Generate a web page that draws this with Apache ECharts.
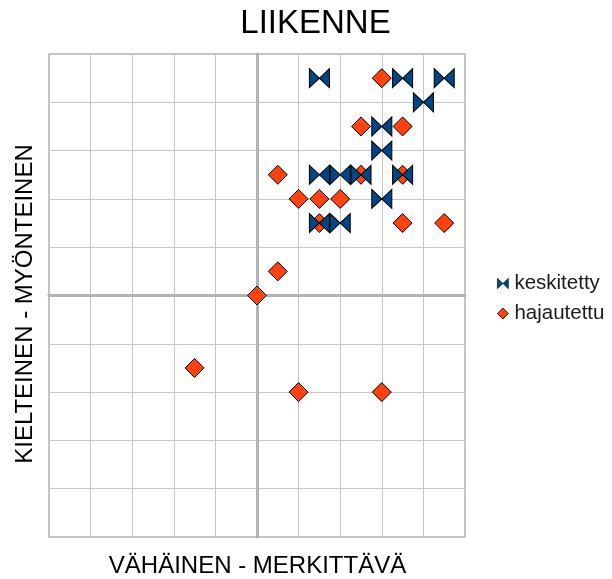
<!DOCTYPE html>
<html>
<head>
<meta charset="utf-8">
<script src="https://cdn.jsdelivr.net/npm/echarts@6/dist/echarts.min.js"></script>
<style>
html,body{margin:0;padding:0;background:#fff;}
#c{width:612px;height:579px;}
</style>
</head>
<body>
<div id="c"></div>
<script>
const titleText = 'LIIKENNE';
const xAxisName = 'VÄHÄINEN - MERKITTÄVÄ';
const yAxisName = 'KIELTEINEN - MYÖNTEINEN';
const seriesNames = ['keskitetty', 'hajautettu'];

const keskitettyX = [1.5, 3.5, 4.5, 4, 3, 3, 1.5, 2, 2.5, 3.5, 3, 1.5, 2];
const keskitettyY = [4.5, 4.5, 4.5, 4, 3.5, 3, 2.5, 2.5, 2.5, 2.5, 2, 1.5, 1.5];

const hajautettuX = [3, 2.5, 3.5, 0.5, 2.5, 3.5, 1, 1.5, 2, 1.5, 3.5, 4.5, 0.5, 0, -1.5, 1, 3];
const hajautettuY = [4.5, 3.5, 3.5, 2.5, 2.5, 2.5, 2, 2, 2, 1.5, 1.5, 1.5, 0.5, 0, -1.5, -2, -2];

const axisMin = -5, axisMax = 5, axisStep = 1;

const bowtie = 'path://M0,0L10,9.5L0,19ZM20,0L10,9.5L20,19Z';

function pairs(xs, ys) { return xs.map((x, i) => [x, ys[i]]); }

const chart = echarts.init(document.getElementById('c'), null, {renderer: 'canvas'});
const font = '"Liberation Sans", Arial, sans-serif';
const gridColor = '#c6c6c6';

chart.setOption({
  backgroundColor: '#ffffff',
  animation: false,
  grid: {
    left: 49, right: 147, top: 54, bottom: 42,
    show: true, borderColor: '#b3b3b3', borderWidth: 1.5, backgroundColor: 'transparent'
  },
  xAxis: {
    type: 'value', min: axisMin, max: axisMax, interval: axisStep,
    axisLabel: {show: false}, axisTick: {show: false},
    axisLine: {show: true, onZero: true, lineStyle: {color: '#b3b3b3', width: 3}},
    splitLine: {show: true, lineStyle: {color: gridColor, width: 1}}
  },
  yAxis: {
    type: 'value', min: axisMin, max: axisMax, interval: axisStep,
    axisLabel: {show: false}, axisTick: {show: false},
    axisLine: {show: true, onZero: true, lineStyle: {color: '#b3b3b3', width: 3}},
    splitLine: {show: true, lineStyle: {color: gridColor, width: 1}}
  },
  legend: {
    orient: 'vertical', left: 492, top: 268, itemGap: 9,
    itemWidth: 11, itemHeight: 11,
    textStyle: {fontFamily: font, fontSize: 20.5, color: '#1a1a1a', padding: [0, 0, 0, 1]},
    data: [
      {name: seriesNames[0], icon: bowtie, itemStyle: {borderWidth: 0.6}},
      {name: seriesNames[1], icon: 'diamond', itemStyle: {borderWidth: 0.8}}
    ]
  },
  graphic: [
    {type: 'text', x: 315.5, y: 23.5, style: {text: titleText, font: '33px ' + font, fill: '#000', align: 'center', verticalAlign: 'middle'}},
    {type: 'text', x: 257.5, y: 566, style: {text: xAxisName, font: '24px ' + font, fill: '#000', align: 'center', verticalAlign: 'middle'}},
    {type: 'text', x: 25, y: 304, rotation: Math.PI / 2, style: {text: yAxisName, font: '24px ' + font, fill: '#000', align: 'center', verticalAlign: 'middle'}}
  ],
  series: [
    {
      name: seriesNames[0], type: 'scatter', z: 4,
      symbol: bowtie, symbolSize: [20, 19],
      itemStyle: {color: '#004586', borderColor: '#000', borderWidth: 1, opacity: 1},
      data: pairs(keskitettyX, keskitettyY)
    },
    {
      name: seriesNames[1], type: 'scatter', z: 3,
      symbol: 'diamond', symbolSize: [19, 19],
      itemStyle: {color: '#ff420e', borderColor: '#000', borderWidth: 1, opacity: 1},
      data: pairs(hajautettuX, hajautettuY)
    }
  ]
});
</script>
</body>
</html>
